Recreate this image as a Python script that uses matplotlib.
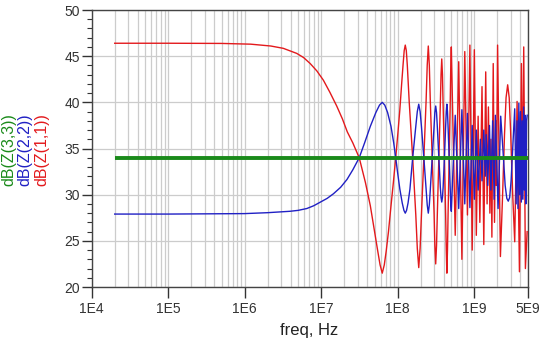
import matplotlib
matplotlib.use('Agg')
import matplotlib.pyplot as plt
from matplotlib.ticker import FixedLocator, LogLocator, MultipleLocator, NullFormatter

plt.rcParams['font.family'] = ['Liberation Sans', 'DejaVu Sans']

# ---------------- data ----------------
# dB(Z(1,1))  (red)
red_f = [2.0e4, 1.0e5, 5.0e5, 1.2e6, 2.2e6, 3.2e6, 4.8e6, 5.9e6, 7.2e6, 8.8e6,
         1.07e7, 1.3e7, 1.6e7, 1.9e7, 2.2e7, 2.6e7, 3.15e7, 3.8e7, 4.4e7, 5.0e7,
         5.5e7, 5.9e7, 6.3e7, 6.7e7, 7.1e7, 7.6e7, 8.2e7, 8.8e7, 9.45e7, 1.01e8,
         1.07e8, 1.13e8, 1.18e8, 1.22e8, 1.26e8, 1.30e8, 1.34e8, 1.42e8, 1.575e8, 1.73e8,
         1.81e8, 1.89e8, 1.97e8, 2.05e8,
         2.205e8, 2.36e8, 2.44e8, 2.52e8, 2.60e8, 2.68e8, 2.835e8, 3.0e8, 3.07e8, 3.15e8,
         3.23e8, 3.31e8, 3.465e8, 3.62e8, 3.70e8, 3.78e8, 3.86e8, 3.94e8, 4.095e8, 4.25e8,
         4.33e8, 4.41e8, 4.49e8, 4.57e8, 4.725e8, 4.88e8, 4.96e8, 5.04e8,
         5.67e8, 6.3e8, 6.93e8, 7.56e8, 8.19e8, 8.82e8, 9.45e8, 1.008e9,
         1.07e9, 1.13e9, 1.19e9, 1.27e9, 1.34e9, 1.42e9, 1.48e9, 1.54e9, 1.61e9, 1.66e9,
         1.71e9, 1.78e9, 1.85e9, 1.92e9, 1.96e9, 2.03e9, 2.21e9,
         2.35e9, 2.5e9, 2.62e9, 2.75e9, 2.88e9, 3.0e9, 3.2e9, 3.4e9,
         3.65e9, 3.92e9, 4.16e9, 4.29e9, 4.46e9, 4.69e9, 4.94e9]
red_db = [46.4, 46.4, 46.38, 46.3, 46.1, 45.85, 45.3, 44.85, 44.2, 43.4,
          42.4, 41.1, 39.6, 38.2, 36.8, 35.6, 34.0, 31.3, 28.8, 26.0,
          23.9, 22.4, 21.5, 22.4, 23.9, 26.0, 28.8, 31.3, 34.0, 36.7,
          39.2, 42.0, 44.1, 45.6, 46.2, 45.6, 44.0, 40.0, 34.0, 27.8,
          24.2, 22.1, 24.2, 27.8,
          34.0, 40.2, 44.0, 46.1, 44.0, 40.0, 34.0, 28.0, 24.5, 22.5,
          24.5, 28.0, 34.0, 39.8, 43.0, 44.7, 43.0, 39.6, 34.0, 27.8,
          24.0, 21.5, 24.0, 27.8, 34.0, 40.0, 44.0, 46.0,
          25.6, 44.4, 23.0, 45.5, 27.8, 46.2, 24.0, 45.7,
          25.6, 38.5, 27.0, 41.7, 24.6, 43.3, 29.0, 39.5, 28.0, 36.0,
          25.4, 44.2, 27.0, 38.0, 31.0, 46.2, 23.3,
          29.5, 36.5, 40.5, 41.9, 40.5, 37.0, 30.0, 24.9,
          40.1, 21.65, 44.2, 29.6, 46.0, 22.0, 26.0]

# dB(Z(2,2))  (blue)
blue_f = [2.0e4, 1.0e5, 1.0e6, 2.0e6, 3.9e6, 5.0e6, 6.5e6, 8.0e6, 9.8e6, 1.2e7,
          1.45e7, 1.8e7, 2.18e7, 2.6e7, 3.15e7, 3.7e7, 4.4e7, 5.2e7, 5.8e7, 6.3e7,
          6.8e7, 7.4e7, 8.2e7, 8.9e7, 9.45e7, 1.0e8, 1.07e8, 1.15e8, 1.21e8, 1.26e8,
          1.31e8, 1.37e8, 1.45e8, 1.575e8,
          1.73e8, 1.81e8, 1.89e8, 1.97e8, 2.05e8, 2.205e8, 2.36e8, 2.44e8, 2.52e8, 2.60e8,
          2.68e8, 2.835e8, 3.0e8, 3.07e8, 3.15e8, 3.23e8, 3.31e8, 3.465e8, 3.62e8, 3.70e8,
          3.78e8, 3.86e8, 3.94e8, 4.095e8, 4.25e8, 4.33e8, 4.41e8, 4.49e8, 4.57e8, 4.725e8,
          4.88e8, 4.96e8, 5.04e8,
          5.67e8, 6.3e8, 6.93e8, 7.56e8, 8.19e8, 8.82e8, 9.45e8, 1.008e9, 1.07e9, 1.13e9,
          1.21e9, 1.27e9, 1.34e9, 1.40e9, 1.44e9, 1.51e9, 1.59e9, 1.66e9, 1.75e9, 1.83e9,
          1.90e9, 2.06e9, 2.23e9,
          2.4e9, 2.55e9, 2.68e9, 2.8e9, 2.92e9, 3.05e9, 3.2e9, 3.4e9,
          3.55e9, 3.65e9, 3.75e9, 3.85e9, 3.95e9, 4.05e9, 4.15e9, 4.25e9, 4.35e9, 4.45e9,
          4.55e9, 4.65e9, 4.75e9, 4.85e9, 4.95e9]
blue_db = [27.9, 27.9, 27.95, 28.05, 28.2, 28.3, 28.5, 28.8, 29.2, 29.6,
           30.1, 30.8, 31.65, 32.7, 34.0, 35.6, 37.4, 38.9, 39.7, 40.0,
           39.7, 38.9, 37.4, 35.6, 34.0, 32.4, 30.6, 29.1, 28.3, 28.0,
           28.3, 29.1, 30.6, 34.0,
           37.4, 39.0, 39.8, 39.0, 37.4, 34.0, 30.6, 28.9, 28.0, 28.9,
           30.6, 34.0, 37.4, 38.9, 39.6, 38.9, 37.3, 34.0, 30.8, 29.7,
           29.2, 29.7, 30.8, 34.0, 37.4, 39.0, 39.8, 39.0, 37.4, 34.0,
           30.6, 28.9, 28.2,
           38.6, 28.5, 39.2, 29.0, 38.8, 28.6, 37.5, 29.5, 37.0, 30.5,
           36.0, 31.5, 37.0, 32.0, 36.5, 31.0, 37.5, 30.5, 38.0, 29.5,
           38.6, 28.5, 38.5,
           34.5, 31.0, 29.6, 29.3, 29.7, 31.5, 35.0, 39.3,
           29.0, 38.0, 28.5, 39.9, 30.0, 39.0, 29.2, 38.0, 29.5, 39.5,
           30.5, 38.6, 29.0, 38.0, 38.6]

# dB(Z(3,3))  (green)
green_f = [2.0e4, 5.0e9]
green_db = [34.0, 34.0]

xtick_vals = [1e4, 1e5, 1e6, 1e7, 1e8, 1e9, 5e9]
xtick_lbls = ['1E4', '1E5', '1E6', '1E7', '1E8', '1E9', '5E9']

# ---------------- figure ----------------
fig = plt.figure(figsize=(5.47, 3.51), dpi=100)
ax = fig.add_axes([0.1676, 0.1823, 0.7968, 0.7892])

ax.plot(red_f, red_db, color='#e3191c', lw=1.0, zorder=3)
ax.plot(blue_f, blue_db, color='#2020c4', lw=1.0, zorder=4)
ax.plot(green_f, green_db, color='#1a8a1a', lw=2.8, zorder=5, solid_capstyle='butt')

ax.set_xscale('log')
ax.set_xlim(1e4, 5e9)
ax.set_ylim(20, 50)

ax.xaxis.set_major_locator(FixedLocator(xtick_vals))
ax.set_xticklabels(xtick_lbls)
ax.xaxis.set_minor_locator(LogLocator(base=10, subs=range(2, 10), numticks=20))
ax.xaxis.set_minor_formatter(NullFormatter())
ax.yaxis.set_major_locator(MultipleLocator(5))
ax.yaxis.set_minor_locator(MultipleLocator(1))

ax.xaxis.grid(True, which='both', color='#cccccc', lw=0.9, zorder=0)
ax.yaxis.grid(True, which='major', color='#cccccc', lw=0.9, zorder=0)
ax.set_axisbelow(True)

ax.tick_params(axis='x', which='major', direction='out', length=8, width=1,
               pad=3, labelsize=10, colors='#333333')
ax.tick_params(axis='x', which='minor', length=0)
ax.tick_params(axis='y', which='major', direction='out', length=7, width=1,
               pad=1.5, labelsize=10, colors='#333333')
ax.tick_params(axis='y', which='minor', direction='out', length=3.6, width=0.8,
               colors='#333333')
for sp in ax.spines.values():
    sp.set_color('#444444')
    sp.set_linewidth(1.0)

fig.text(309.6 / 547, 1 - 330 / 351, 'freq, Hz', ha='center', va='center',
         fontsize=12, color='#222222')

ylab_x = [8.5, 25.0, 41.5]
ylab_txt = ['dB(Z(3,3))', 'dB(Z(2,2))', 'dB(Z(1,1))']
ylab_col = ['#1a8a1a', '#2020c4', '#e3191c']
for xp, t, c in zip(ylab_x, ylab_txt, ylab_col):
    fig.text(xp / 547, 1 - 150 / 351, t, rotation=90, ha='center', va='center',
             fontsize=11.5, color=c)

fig.savefig('out.png', dpi=100)
